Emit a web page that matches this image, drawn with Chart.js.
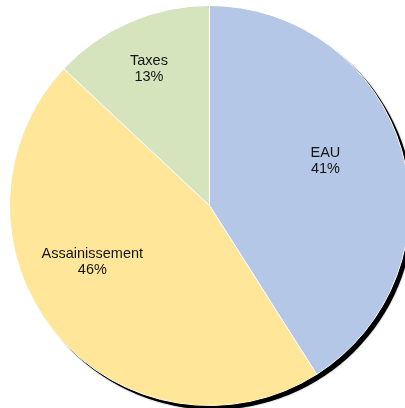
<!DOCTYPE html>
<html>
<head>
<meta charset="utf-8">
<script src="https://cdn.jsdelivr.net/npm/chart.js@4/dist/chart.umd.min.js"></script>
<style>
  html, body { margin: 0; padding: 0; background: #fff; overflow: hidden; }
  #wrap { position: absolute; left: 0; top: 0; width: 420px; height: 412px; }
</style>
</head>
<body>
<div id="wrap"><canvas id="camembert"></canvas></div>
<script>
// données du graphique
const categories = ['EAU', 'Assainissement', 'Taxes'];
const valeurs = [41, 46, 13];
const couleurs = ['#B4C7E7', '#FFE699', '#D6E4BD'];

// ombre portée sous le camembert
const ombre = {
    id: 'ombre',
    beforeDatasetsDraw(chart) {
        const arc = chart.getDatasetMeta(0).data[0];
        if (!arc) return;
        const ctx = chart.ctx;
        ctx.save();
        ctx.shadowColor = 'rgba(0,0,0,0.7)';
        ctx.shadowBlur = 1.5;
        ctx.fillStyle = '#000';
        ctx.beginPath();
        ctx.arc(arc.x + 4, arc.y + 4, arc.outerRadius, 0, Math.PI * 2);
        ctx.fill();
        ctx.restore();
    }
};

// étiquettes "nom + pourcentage"
const etiquettes = {
    id: 'etiquettes',
    afterDatasetsDraw(chart, args, opts) {
        const meta = chart.getDatasetMeta(0);
        const total = valeurs.reduce((a, b) => a + b, 0);
        const ctx = chart.ctx;
        ctx.save();
        ctx.font = '14.5px "Liberation Sans", Arial, sans-serif';
        ctx.fillStyle = '#141414';
        ctx.textAlign = 'center';
        ctx.textBaseline = 'middle';
        meta.data.forEach((arc, i) => {
            const mid = (arc.startAngle + arc.endAngle) / 2 + (opts.decalage[i] || 0);
            const d = arc.outerRadius * opts.distance[i];
            const x = arc.x + Math.cos(mid) * d;
            const y = arc.y + Math.sin(mid) * d;
            const pct = Math.round(valeurs[i] / total * 100) + '%';
            ctx.fillText(categories[i], x, y - 8);
            ctx.fillText(pct, x, y + 8);
        });
        ctx.restore();
    }
};

new Chart(document.getElementById('camembert'), {
    type: 'pie',
    data: {
        labels: categories,
        datasets: [{
            data: valeurs,
            backgroundColor: couleurs,
            borderColor: '#ffffff',
            borderWidth: 1
        }]
    },
    options: {
        responsive: true,
        maintainAspectRatio: false,
        animation: false,
        layout: { padding: { top: 5, bottom: 6, left: 9, right: 10 } },
        plugins: {
            legend: { display: false },
            tooltip: { enabled: false },
            etiquettes: { distance: [0.62, 0.65, 0.745], decalage: [-0.08, 0.243, -0.01] }
        }
    },
    plugins: [ombre, etiquettes]
});
</script>
</body>
</html>
